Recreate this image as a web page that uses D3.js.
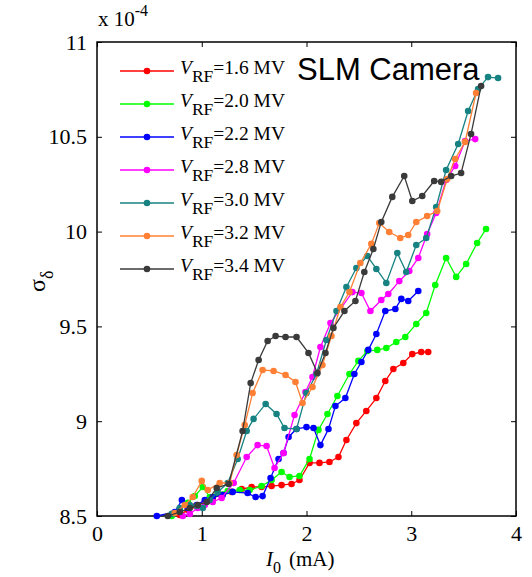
<!DOCTYPE html>
<html>
<head>
<meta charset="utf-8">
<script src="https://cdn.jsdelivr.net/npm/d3@7"></script>
<style>
  body { margin: 0; background: #fff; }
  #chart { width: 532px; height: 577px; }
</style>
</head>
<body>
<div id="chart"></div>
<script>
// beam current I0 (mA) and energy spread (x 1e-4) for each RF voltage
var i16 = [0.79,0.867,0.943,1.029,1.105,1.19,1.286,1.381,1.476,1.571,1.667,1.762,1.857,1.933,2.029,2.124,2.219,2.305,2.381,2.476,2.571,2.667,2.752,2.829,2.924,3.01,3.095,3.162];
var s16 = [8.505,8.532,8.553,8.574,8.595,8.611,8.627,8.642,8.653,8.653,8.658,8.663,8.669,8.69,8.78,8.78,8.785,8.811,8.901,8.99,9.054,9.122,9.212,9.275,9.307,9.354,9.365,9.365];

var i20 = [0.714,0.79,0.867,0.933,1.01,1.076,1.152,1.248,1.362,1.457,1.571,1.667,1.762,1.838,1.933,2.029,2.114,2.2,2.295,2.41,2.495,2.581,2.676,2.762,2.857,2.943,3.048,3.143,3.229,3.333,3.429,3.524,3.629,3.714];
var s20 = [8.5,8.532,8.569,8.605,8.653,8.6,8.621,8.632,8.637,8.637,8.658,8.69,8.732,8.706,8.711,8.801,8.954,9.038,9.133,9.249,9.318,9.37,9.376,9.386,9.418,9.444,9.513,9.571,9.718,9.861,9.761,9.829,9.94,10.014];

var i22 = [0.571,0.743,0.81,0.867,0.952,1.029,1.105,1.2,1.295,1.438,1.514,1.581,1.657,1.733,1.781,1.829,1.905,2.0,2.067,2.133,2.21,2.276,2.371,2.457,2.524,2.59,2.667,2.752,2.848,2.905,2.971,3.067];
var s22 = [8.5,8.521,8.584,8.542,8.558,8.584,8.6,8.611,8.627,8.621,8.6,8.605,8.7,8.801,8.832,8.917,8.959,8.969,8.964,8.874,8.959,9.08,9.122,9.249,9.312,9.376,9.46,9.581,9.592,9.645,9.634,9.687];

var i28 = [0.819,0.886,0.962,1.029,1.105,1.19,1.305,1.429,1.533,1.619,1.695,1.781,1.886,1.99,2.057,2.133,2.229,2.438,2.524,2.61,2.714,2.781,2.886,2.981,3.067,3.152,3.238,3.333,3.419,3.514,3.61];
var s28 = [8.5,8.511,8.542,8.558,8.574,8.595,8.674,8.811,8.874,8.869,8.753,8.832,9.033,9.154,9.233,9.391,9.518,9.681,9.676,9.581,9.639,9.671,9.739,9.792,9.861,9.987,10.098,10.272,10.346,10.478,10.488];

var i30 = [0.714,0.79,0.886,0.952,1.01,1.076,1.152,1.248,1.343,1.429,1.495,1.61,1.714,1.79,1.905,2.0,2.095,2.19,2.286,2.381,2.476,2.581,2.667,2.762,2.867,2.952,3.048,3.143,3.238,3.333,3.448,3.543,3.638,3.733,3.829];
var s30 = [8.511,8.542,8.558,8.553,8.542,8.584,8.627,8.674,8.801,8.948,9.012,9.091,9.038,8.964,8.959,9.149,9.249,9.428,9.581,9.708,9.808,9.871,9.803,9.729,9.887,9.787,9.929,9.966,10.13,10.325,10.462,10.636,10.752,10.815,10.81];

var i32 = [0.743,0.838,0.914,1.0,1.057,1.171,1.267,1.333,1.41,1.486,1.581,1.686,1.8,1.895,1.962,2.057,2.152,2.238,2.324,2.41,2.514,2.619,2.695,2.79,2.895,2.971,3.048,3.152,3.248,3.343,3.419,3.514,3.619];
var s32 = [8.516,8.558,8.6,8.685,8.637,8.674,8.674,8.822,8.98,9.149,9.27,9.265,9.244,9.207,9.096,9.18,9.296,9.449,9.602,9.681,9.834,9.935,10.045,9.998,9.966,9.982,10.051,10.082,10.109,10.277,10.383,10.473,10.731];

var i34 = [0.676,0.79,0.886,0.962,1.048,1.143,1.257,1.39,1.467,1.543,1.629,1.705,1.8,1.905,2.019,2.105,2.181,2.257,2.362,2.467,2.552,2.638,2.714,2.819,2.933,3.01,3.105,3.219,3.286,3.381,3.476,3.571,3.667];
var s34 = [8.5,8.521,8.542,8.558,8.574,8.648,8.669,8.948,9.201,9.323,9.423,9.449,9.444,9.444,9.36,9.254,9.36,9.492,9.581,9.634,9.787,9.908,10.051,10.183,10.293,10.161,10.188,10.267,10.262,10.293,10.309,10.515,10.768];

var voltages = ["1.6", "2.0", "2.2", "2.8", "3.0", "3.2", "3.4"];
var colors = ["#ff0000", "#00ff00", "#0000ff", "#ff00ff", "#178282", "#ff8035", "#3a3a3a"];
var xTicks = [0, 1, 2, 3, 4];
var yTicks = [8.5, 9, 9.5, 10, 10.5, 11];

var currents = [i16, i20, i22, i28, i30, i32, i34];
var spreads = [s16, s20, s22, s28, s30, s32, s34];

// box of the axes, in page pixels
var margin = { top: 42, right: 16, bottom: 61, left: 97 },
  width = 532 - margin.left - margin.right,
  height = 577 - margin.top - margin.bottom;

var svg = d3.select("#chart")
  .append("svg")
  .attr("width", 532)
  .attr("height", 577)
  .style("font-family", "'Liberation Serif', 'Times New Roman', serif");

var g = svg.append("g")
  .attr("transform", "translate(" + margin.left + "," + margin.top + ")");

var x = d3.scaleLinear().domain([0, 4]).range([0, width]);
var y = d3.scaleLinear().domain([8.5, 11]).range([height, 0]);

// ticks go inwards, on all four sides
g.append("g")
  .attr("class", "axis")
  .attr("transform", "translate(0," + height + ")")
  .call(d3.axisBottom(x).tickValues(xTicks).tickSize(-5).tickPadding(9).tickFormat(d3.format("d")));
g.append("g")
  .attr("class", "axis")
  .call(d3.axisTop(x).tickValues(xTicks).tickSize(-5).tickFormat(""));
g.append("g")
  .attr("class", "axis")
  .call(d3.axisLeft(y).tickValues(yTicks).tickSize(-5).tickPadding(10).tickFormat(function (d) { return d; }));
g.append("g")
  .attr("class", "axis")
  .attr("transform", "translate(" + width + ",0)")
  .call(d3.axisRight(y).tickValues(yTicks).tickSize(-5).tickFormat(""));

g.selectAll(".axis .domain").remove();
g.selectAll(".axis line").attr("stroke", "#000").attr("stroke-width", 1);
g.selectAll(".axis text")
  .attr("fill", "#000")
  .style("font-size", "22px")
  .style("font-family", "'Liberation Serif', serif");

g.append("rect")
  .attr("width", width)
  .attr("height", height)
  .attr("fill", "none")
  .attr("stroke", "#000")
  .attr("stroke-width", 1.5);

// the series
var line = d3.line()
  .x(function (d) { return x(d[0]); })
  .y(function (d) { return y(d[1]); });

voltages.forEach(function (v, k) {
  var pts = d3.zip(currents[k], spreads[k]);
  var s = g.append("g");
  s.append("path")
    .datum(pts)
    .attr("d", line)
    .attr("fill", "none")
    .attr("stroke", colors[k])
    .attr("stroke-width", 1.3);
  s.selectAll("circle")
    .data(pts)
    .enter()
    .append("circle")
    .attr("cx", function (d) { return x(d[0]); })
    .attr("cy", function (d) { return y(d[1]); })
    .attr("r", 3.3)
    .attr("fill", colors[k]);
});

// legend
var legend = svg.append("g").attr("transform", "translate(120,71)");
voltages.forEach(function (v, k) {
  var row = legend.append("g").attr("transform", "translate(0," + (k * 33) + ")");
  row.append("line")
    .attr("x1", 0).attr("x2", 54)
    .attr("stroke", colors[k]).attr("stroke-width", 1.3);
  row.append("circle").attr("cx", 27).attr("r", 3.3).attr("fill", colors[k]);
  var t = row.append("text")
    .attr("x", 60)
    .attr("y", 3)
    .style("font-size", "19.5px");
  t.append("tspan").style("font-style", "italic").text("V");
  t.append("tspan").attr("dy", 8).style("font-size", "17.5px").text("RF");
  t.append("tspan").attr("dy", -8).text("=" + v + " MV");
});

svg.append("text")
  .attr("x", 297)
  .attr("y", 80)
  .style("font-family", "'Liberation Sans', Arial, sans-serif")
  .style("font-size", "31px")
  .text("SLM Camera");

// exponent above the axis
var ex = svg.append("text")
  .attr("x", 98)
  .attr("y", 26)
  .style("font-size", "21px");
ex.append("tspan").text("x 10");
ex.append("tspan").attr("dy", -10).style("font-size", "16px").text("-4");

// axis labels
var xl = svg.append("text")
  .attr("x", 266)
  .attr("y", 566)
  .style("font-size", "21px");
xl.append("tspan").style("font-style", "italic").text("I");
xl.append("tspan").attr("dy", 7).style("font-size", "16px").text("0");
xl.append("tspan").attr("dy", -7).attr("dx", 8).text("(mA)");

var yl = svg.append("text")
  .attr("transform", "translate(45,292) rotate(-90)")
  .style("font-size", "24px");
yl.append("tspan").text("σ");
yl.append("tspan").attr("dy", 8).style("font-size", "18px").text("δ");
</script>
</body>
</html>
